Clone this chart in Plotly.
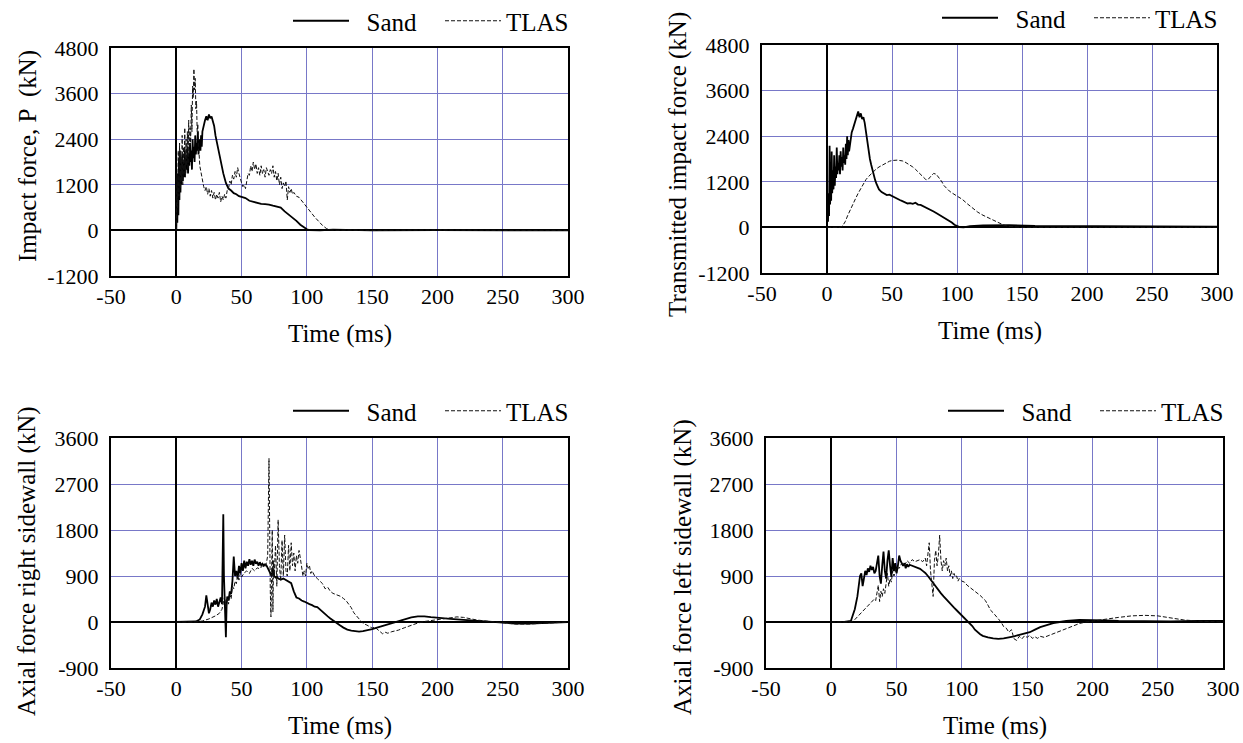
import plotly.graph_objects as go

# ---- data (time in ms, force in kN) ----

sand_impact = [
    (0, 0), (0.4, 700), (0.8, 200), (1.2, 1500), (1.6, 400), (2.0, 1900), (2.4, 800), (2.8, 2100),
    (3.2, 1000), (3.6, 1700), (4.0, 1200), (4.5, 2000), (5.0, 1300), (5.5, 1800), (6.0, 1400),
    (6.5, 2100), (7.0, 1500), (7.5, 1900), (8.0, 1600), (8.5, 2200), (9.0, 1500), (9.5, 2000),
    (10, 1700), (10.5, 2300), (11, 1800), (11.5, 2100), (12, 1600), (12.5, 2400), (13, 1900),
    (13.5, 2200), (14, 1800), (14.5, 2500), (15, 2000), (15.5, 2300), (16, 2100), (16.5, 2600),
    (17, 2000), (17.5, 2400), (18, 2200), (18.5, 2100), (19, 2500), (19.5, 2200), (20, 2600),
    (21, 2800), (22, 2900), (23, 3000), (24, 2900), (25, 3050), (26, 2950), (27, 3000), (28, 2900),
    (29, 2750), (30, 2500), (32, 2150), (34, 1800), (36, 1500), (38, 1250), (40, 1100), (42, 1050),
    (44, 980), (46, 950), (48, 900), (50, 880), (53, 850), (56, 780), (59, 750), (62, 720),
    (65, 700), (68, 690), (71, 680), (74, 650), (77, 620), (80, 600), (83, 500), (86, 420),
    (89, 330), (92, 250), (95, 150), (98, 70), (100, 30), (102, 10), (105, 0), (110, 0),
    (120, 20), (150, 0), (200, 10), (250, 0), (300, 0),
]

tlas_impact = [
    (0, 0), (0.5, 1500), (1, 600), (1.5, 2100), (2, 900), (2.5, 2300), (3, 1100), (3.5, 1900),
    (4, 1300), (4.5, 2500), (5, 1200), (5.5, 2200), (6, 1500), (6.5, 2700), (7, 1400), (7.5, 2400),
    (8, 1700), (8.5, 2600), (9, 1600), (9.5, 2900), (10, 2000), (10.5, 2700), (11, 2300),
    (11.5, 3300), (12, 2600), (12.5, 3800), (13, 3500), (13.5, 4250), (14, 3700), (14.5, 4000),
    (15, 3200), (15.5, 3400), (16, 2600), (16.5, 2800), (17, 2100), (17.5, 2000), (18, 1700),
    (19, 1500), (20, 1300), (21, 1150), (22, 1050), (23, 1150), (24, 950), (25, 1100), (26, 900),
    (27, 1050), (28, 850), (29, 1000), (30, 800), (31, 950), (32, 850), (33, 1000), (34, 750),
    (35, 900), (36, 800), (37, 950), (38, 850), (39, 1050), (40, 1100), (41, 1300), (42, 1200),
    (43, 1450), (44, 1350), (45, 1550), (46, 1400), (47, 1650), (48, 1500), (49, 1350), (50, 1250),
    (51, 1150), (52, 1200), (53, 1100), (54, 1350), (55, 1500), (56, 1450), (57, 1700), (58, 1550),
    (59, 1800), (60, 1600), (61, 1750), (62, 1500), (63, 1650), (64, 1450), (65, 1700), (66, 1500),
    (67, 1600), (68, 1400), (69, 1650), (70, 1550), (71, 1450), (72, 1600), (73, 1500), (74, 1700),
    (75, 1400), (76, 1550), (77, 1300), (78, 1500), (79, 1200), (80, 1400), (81, 1100), (82, 1250),
    (83, 1150), (84, 1300), (85, 800), (86, 1150), (87, 1000), (88, 1100), (89, 950), (90, 1000),
    (92, 900), (94, 870), (96, 780), (98, 680), (100, 600), (103, 480), (106, 350), (109, 240),
    (112, 130), (115, 50), (118, 15), (122, 0), (130, 10), (150, 0), (200, 10), (250, 0), (300, 0),
]

sand_transmitted = [
    (0, 0), (0.4, 500), (0.8, 150), (1.2, 900), (1.6, 300), (2.0, 2150), (2.4, 600), (2.8, 1400),
    (3.2, 700), (3.6, 2000), (4.0, 900), (4.5, 1500), (5.0, 1000), (5.5, 1900), (6.0, 1100),
    (6.5, 1600), (7.0, 1300), (7.5, 2100), (8.0, 1400), (8.5, 1700), (9.0, 1500), (9.5, 1900),
    (10, 1400), (10.5, 2000), (11, 1600), (11.5, 1850), (12, 1500), (12.5, 2100), (13, 1700),
    (13.5, 1900), (14, 1650), (14.5, 2200), (15, 1800), (15.5, 2400), (16, 1900), (16.5, 2300),
    (17, 2000), (18, 2300), (19, 2500), (20, 2600), (21, 2700), (22, 2850), (23, 2950), (24, 3050),
    (25, 2900), (26, 3000), (27, 2850), (28, 2900), (29, 2750), (30, 2500), (31, 2250), (32, 2000),
    (33, 1800), (34, 1650), (35, 1500), (36, 1350), (37, 1250), (38, 1150), (39, 1050), (40, 1000),
    (42, 930), (44, 900), (46, 850), (48, 860), (50, 820), (52, 800), (54, 760), (56, 720),
    (58, 690), (60, 660), (62, 630), (64, 640), (66, 620), (68, 650), (70, 600), (72, 590),
    (74, 560), (76, 530), (78, 500), (80, 450), (82, 420), (84, 380), (86, 340), (88, 300),
    (90, 260), (92, 220), (94, 180), (96, 130), (98, 70), (100, 30), (102, 10), (105, 0),
    (110, 30), (120, 50), (140, 60), (160, 40), (200, 30), (250, 20), (300, 20),
]

tlas_transmitted = [
    (0, 0), (10, 0), (12, 40), (14, 150), (16, 320), (18, 480), (20, 620), (22, 760), (24, 900),
    (26, 1030), (28, 1150), (30, 1260), (32, 1340), (34, 1410), (36, 1480), (38, 1540), (40, 1590),
    (42, 1630), (44, 1680), (46, 1710), (48, 1740), (50, 1760), (52, 1770), (54, 1770), (56, 1760),
    (58, 1750), (60, 1720), (62, 1680), (64, 1640), (66, 1590), (68, 1530), (70, 1460), (72, 1400),
    (74, 1330), (76, 1260), (77, 1250), (78, 1270), (80, 1350), (82, 1420), (84, 1400), (86, 1320),
    (88, 1220), (90, 1100), (92, 1020), (94, 960), (96, 910), (98, 870), (100, 840), (104, 740),
    (108, 620), (112, 500), (116, 400), (120, 320), (124, 250), (128, 180), (132, 110), (136, 60),
    (140, 25), (145, 5), (150, 0), (200, 0), (250, 0), (300, 0),
]

sand_right = [
    (0, 0), (10, 0), (15, 10), (18, 50), (20, 150), (22, 300), (23, 520), (24, 350), (25, 170),
    (26, 250), (27, 380), (28, 300), (29, 420), (30, 340), (31, 450), (32, 300), (33, 400),
    (34, 480), (35, 350), (36, 2110), (36.5, 900), (37, 500), (37.5, 400), (38, -300), (38.5, 300),
    (39, 500), (40, 420), (41, 600), (42, 550), (43, 800), (44, 1280), (45, 900), (46, 1000),
    (47, 850), (48, 1100), (49, 950), (50, 1150), (51, 1000), (52, 1200), (53, 1050), (54, 1180),
    (55, 1100), (56, 1230), (57, 1120), (58, 1200), (59, 1100), (60, 1220), (61, 1140), (62, 1180),
    (63, 1100), (64, 1170), (65, 1110), (66, 1140), (67, 1100), (68, 1130), (69, 1110), (70, 1060),
    (71, 1000), (72, 950), (73, 900), (74, 1050), (75, 900), (76, 870), (77, 890), (78, 850),
    (80, 830), (82, 850), (84, 820), (86, 800), (88, 760), (90, 600), (91, 520), (92, 480),
    (94, 460), (96, 420), (98, 400), (100, 370), (102, 350), (104, 330), (106, 300), (108, 290),
    (110, 240), (112, 200), (114, 160), (116, 110), (118, 70), (120, 30), (122, 0), (125, -60),
    (128, -110), (131, -150), (134, -170), (137, -185), (140, -190), (143, -180), (146, -165),
    (150, -140), (155, -100), (160, -60), (165, -20), (170, 20), (175, 60), (180, 90), (185, 110),
    (190, 110), (195, 95), (200, 80), (210, 60), (220, 40), (230, 20), (240, 0), (250, -10),
    (260, -30), (270, -30), (280, -20), (290, -10), (300, 0),
]

tlas_right = [
    (0, 0), (15, 0), (20, 20), (25, 60), (30, 120), (33, 170), (35, 250), (36, 350), (37, 500),
    (38, 300), (39, 450), (40, 350), (41, 550), (42, 450), (43, 700), (44, 650), (45, 800),
    (46, 750), (47, 900), (48, 820), (49, 950), (50, 880), (52, 960), (54, 1000), (56, 950),
    (58, 1050), (60, 1000), (62, 1060), (64, 1040), (66, 1100), (68, 1080), (69, 1150), (70, 1300),
    (71, 3200), (71.5, 1500), (72, 600), (72.5, 100), (73, 1100), (73.5, 1800), (74, 200),
    (74.5, 1200), (75, 900), (76, 1500), (77, 700), (78, 2000), (79, 1100), (80, 800), (81, 1600),
    (82, 900), (83, 1700), (84, 1000), (85, 900), (86, 1500), (87, 1000), (88, 1550), (89, 1100),
    (90, 1350), (91, 1000), (92, 1300), (93, 1150), (94, 1400), (95, 1250), (96, 1100), (97, 900),
    (98, 1000), (99, 900), (100, 1150), (101, 1050), (102, 1100), (103, 950), (104, 1000),
    (106, 900), (108, 850), (110, 800), (112, 750), (114, 650), (116, 680), (118, 600), (120, 560),
    (122, 540), (124, 520), (126, 500), (128, 460), (130, 420), (132, 350), (134, 280), (136, 180),
    (138, 130), (140, 60), (142, 0), (144, -40), (146, -60), (148, -90), (150, -120), (152, -100),
    (154, -150), (156, -200), (158, -230), (160, -200), (162, -220), (165, -190), (170, -160),
    (175, -110), (180, -60), (185, -20), (190, 10), (195, 30), (200, 50), (205, 70), (210, 90),
    (215, 100), (220, 90), (225, 60), (230, 40), (240, 10), (250, -20), (260, -40), (270, -40),
    (280, -30), (290, -10), (300, 0),
]

sand_left = [
    (0, 0), (10, 0), (15, 20), (18, 250), (20, 500), (22, 900), (23, 950), (24, 700), (25, 850),
    (26, 1000), (27, 920), (28, 1050), (29, 980), (30, 1100), (31, 1020), (32, 1080), (33, 950),
    (34, 1000), (35, 1150), (36, 1300), (37, 900), (38, 750), (39, 1100), (40, 1380), (41, 1000),
    (42, 850), (43, 1200), (44, 1400), (45, 1100), (46, 880), (47, 1250), (48, 1000), (49, 1150),
    (50, 950), (51, 1100), (52, 1300), (53, 1200), (54, 1150), (55, 1100), (56, 1150), (57, 1050),
    (58, 1130), (59, 1080), (60, 1120), (62, 1100), (64, 1090), (66, 1070), (68, 1040), (70, 1000),
    (72, 960), (74, 900), (76, 830), (78, 760), (80, 680), (82, 620), (84, 560), (86, 500),
    (88, 440), (90, 380), (92, 330), (94, 280), (96, 230), (98, 180), (100, 120), (102, 70),
    (104, 20), (106, -30), (108, -80), (110, -150), (112, -200), (114, -240), (116, -270),
    (118, -290), (120, -300), (124, -320), (128, -330), (132, -320), (136, -305), (140, -280),
    (144, -250), (148, -230), (152, -200), (156, -150), (160, -100), (165, -60), (170, -20),
    (175, 0), (180, 20), (190, 40), (200, 40), (210, 30), (220, 20), (240, 10), (260, 10),
    (280, 20), (300, 20),
]

tlas_left = [
    (0, 0), (15, 0), (17, 20), (20, 100), (25, 250), (30, 380), (33, 450), (34, 420), (35, 550),
    (36, 720), (37, 400), (38, 600), (39, 500), (40, 650), (41, 560), (42, 800), (43, 950),
    (44, 700), (45, 850), (46, 780), (47, 1000), (48, 900), (50, 1080), (52, 1050), (54, 1150),
    (56, 1100), (58, 1200), (60, 1150), (62, 1220), (64, 1180), (66, 1200), (68, 1220), (70, 1180),
    (72, 1250), (73, 1100), (74, 1300), (75, 1550), (76, 1000), (77, 700), (78, 500), (79, 1200),
    (80, 1400), (81, 1100), (82, 1300), (83, 1700), (84, 1200), (85, 1000), (86, 1200), (87, 1100),
    (88, 1250), (89, 1000), (90, 1100), (91, 900), (92, 1000), (93, 850), (94, 950), (95, 880),
    (96, 900), (97, 800), (98, 850), (100, 800), (102, 780), (104, 720), (106, 680), (108, 650),
    (110, 600), (112, 560), (114, 520), (116, 470), (118, 420), (120, 330), (122, 230), (124, 180),
    (126, 120), (128, 60), (130, 0), (132, -90), (134, -120), (136, -200), (138, -150), (140, -330),
    (142, -360), (144, -280), (146, -330), (148, -270), (150, -300), (152, -260), (154, -320),
    (156, -290), (158, -320), (160, -280), (163, -300), (166, -270), (170, -230), (175, -180),
    (180, -130), (185, -80), (190, -30), (195, 0), (200, 20), (210, 60), (220, 90), (230, 120),
    (240, 130), (250, 120), (260, 80), (270, 40), (280, 20), (290, 10), (300, 0),
]

y_titles = ["Impact force, P  (kN)", "Transmitted impact force (kN)",
            "Axial force right sidewall (kN)", "Axial force left sidewall (kN)"]
x_title = "Time (ms)"
x_ticks = [-50, 0, 50, 100, 150, 200, 250, 300]
y_ticks_top = [-1200, 0, 1200, 2400, 3600, 4800]
y_ticks_bottom = [-900, 0, 900, 1800, 2700, 3600]

W, H = 1243, 743
FONT = "Liberation Serif"
GRID = "rgb(120,120,200)"

# plot boxes in pixels: left, right, top, bottom
boxes = [(111, 568, 48, 276), (762, 1217, 45, 273), (111, 568, 438, 668), (766, 1223, 438, 668)]
y_tick_sets = [y_ticks_top, y_ticks_top, y_ticks_bottom, y_ticks_bottom]

panels = [(sand_impact, tlas_impact), (sand_transmitted, tlas_transmitted),
          (sand_right, tlas_right), (sand_left, tlas_left)]

fig = go.Figure()
layout = {}
annotations = []

for i, ((sand, tlas), (l, r, t, b)) in enumerate(zip(panels, boxes)):
    n = "" if i == 0 else str(i + 1)
    lg = "legend" + n
    xa, ya = "x" + n, "y" + n
    yt = y_tick_sets[i]

    fig.add_trace(go.Scatter(
        x=[p[0] for p in sand], y=[p[1] for p in sand], name="\u00a0\u00a0Sand", mode="lines",
        line=dict(color="black", width=1.8), xaxis=xa, yaxis=ya, legend=lg))
    fig.add_trace(go.Scatter(
        x=[p[0] for p in tlas], y=[p[1] for p in tlas], name="TLAS", mode="lines",
        line=dict(color="#111111", width=1, dash="4px,2px"), xaxis=xa, yaxis=ya, legend=lg))

    axis_common = dict(
        showline=True, linecolor="black", linewidth=2, mirror=True,
        showgrid=True, gridcolor=GRID, gridwidth=1,
        zeroline=True, zerolinecolor="black", zerolinewidth=2,
        ticks="", ticklen=0, automargin=False,
        tickfont=dict(family=FONT, size=22, color="black"),
    )
    layout["xaxis" + n] = dict(
        axis_common, domain=[l / W, r / W], range=[x_ticks[0], x_ticks[-1]],
        tickvals=x_ticks, ticktext=[str(v) for v in x_ticks], anchor=ya,
        ticklabelstandoff=0)
    layout["yaxis" + n] = dict(
        axis_common, domain=[1 - b / H, 1 - t / H], range=[yt[0], yt[-1]],
        tickvals=yt, ticktext=[str(v) for v in yt], anchor=xa,
        ticklabelstandoff=6)

    layout[lg] = dict(
        orientation="h", x=(r + 24) / W, xanchor="right", y=1 - (t - 27) / H,
        yanchor="middle", font=dict(family=FONT, size=25, color="black"),
        bgcolor="rgba(0,0,0,0)", itemwidth=56, entrywidth=81, tracegroupgap=0)

    annotations.append(dict(
        text=x_title, xref="paper", yref="paper", x=(l + r) / 2 / W,
        y=1 - (b + 58) / H, xanchor="center", yanchor="middle", showarrow=False,
        font=dict(family=FONT, size=25, color="black")))

ytitle_pos = [(28, 156), (678, 165), (27, 561), (683, 567)]
for txt, (px, py) in zip(y_titles, ytitle_pos):
    annotations.append(dict(
        text=txt, xref="paper", yref="paper", x=px / W, y=1 - py / H, textangle=-90,
        xanchor="center", yanchor="middle",
        showarrow=False, font=dict(family=FONT, size=25, color="black")))

fig.update_layout(
    width=W, height=H, margin=dict(l=0, r=0, t=0, b=0, autoexpand=False),
    paper_bgcolor="white", plot_bgcolor="white",
    annotations=annotations, **layout)

fig.write_html("out.html", config={"displayModeBar": False},
               post_script="document.body.style.margin='0';")
